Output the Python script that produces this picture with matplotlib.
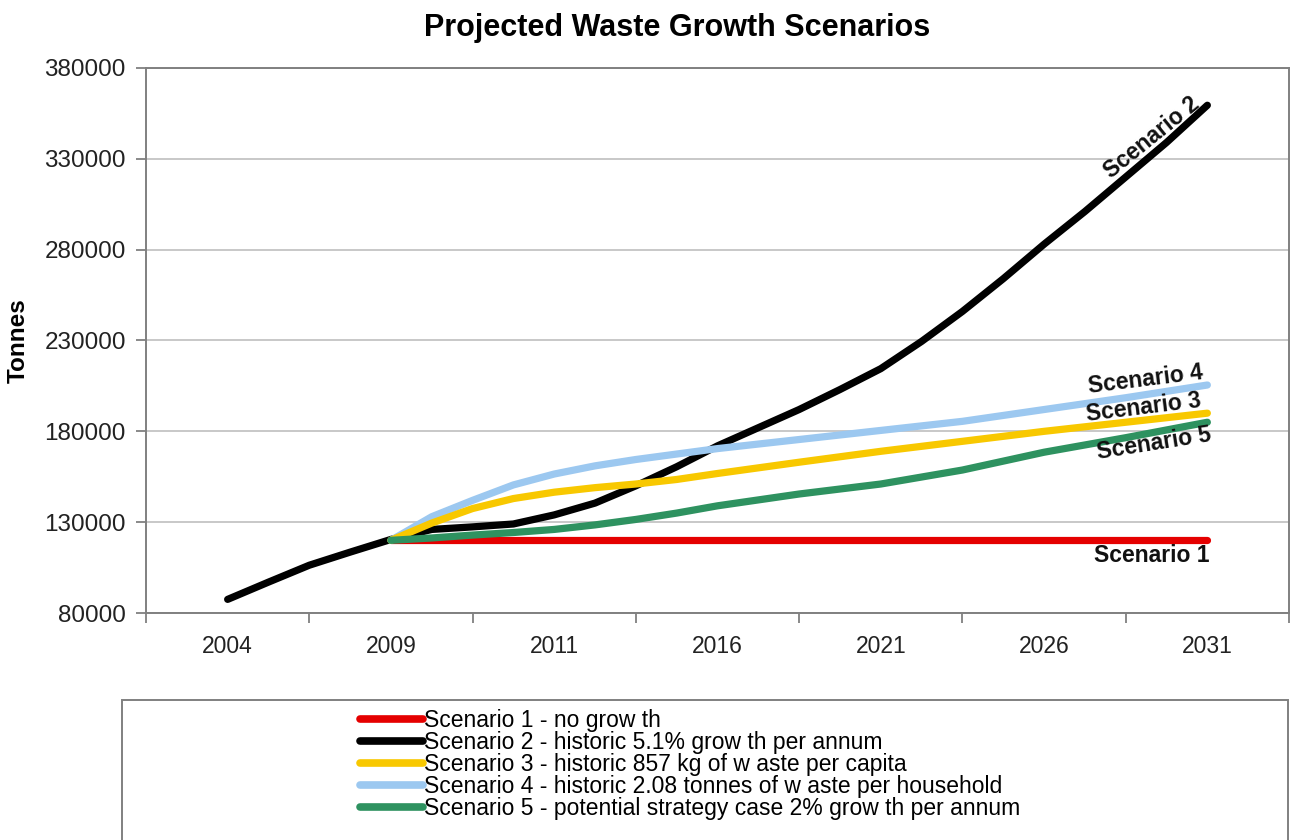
import matplotlib
matplotlib.use("Agg")
import matplotlib.pyplot as plt
from matplotlib.patches import Rectangle
from matplotlib.lines import Line2D

# ---- data ----
year_labels = ["2004", "2009", "2011", "2016", "2021", "2026", "2031"]
y_ticks = [80000, 130000, 180000, 230000, 280000, 330000, 380000]

hist_pos = [0, 0.25, 0.5, 0.75]
hist_vals = [87500, 97000, 106300, 113500]

proj_pos = [1, 1.25, 1.5, 1.75, 2, 2.25, 2.5, 2.75, 3, 3.5, 4, 4.5, 5, 5.5, 6]
s1_vals = [120000] * 15
s3_vals = [120000, 129500, 137500, 143000, 146500, 149000, 151000, 153500,
           156800, 163000, 169000, 174500, 180000, 185000, 190000]
s4_vals = [120000, 133000, 142000, 150500, 156500, 161000, 164500, 167500,
           170500, 175500, 180500, 185500, 192000, 198500, 205500]
s5_vals = [120000, 121300, 122900, 124300, 126000, 128500, 131500, 135000,
           139000, 145500, 151000, 158700, 168500, 176500, 185000]

s2_pos = [1, 1.25, 1.5, 1.75, 2, 2.25, 2.5, 2.75, 3, 3.25, 3.5, 3.75, 4,
          4.25, 4.5, 4.75, 5, 5.25, 5.5, 5.75, 6]
s2_vals = [120500, 126000, 127400, 129000, 134000, 140500, 150000, 160500,
           172000, 182000, 192000, 203000, 214500, 229500, 246000, 264000,
           283000, 301000, 320000, 339000, 359500]

legend_labels = [
    "Scenario 1 - no grow th",
    "Scenario 2 - historic 5.1% grow th per annum",
    "Scenario 3 - historic 857 kg of w aste per capita",
    "Scenario 4 - historic 2.08 tonnes of w aste per household",
    "Scenario 5 - potential strategy case 2% grow th per annum",
]
colors = ["#E50000", "#000000", "#F8C800", "#9CC8F0", "#2E9260"]

# ---- figure ----
plt.rcParams['font.family'] = ['Liberation Sans', 'DejaVu Sans']
W, H = 1291, 840
fig = plt.figure(figsize=(W / 100, H / 100), dpi=100)
ax = fig.add_axes([146 / W, 1 - 613 / H, (1289 - 146) / W, (613 - 68) / H])

lw = 5.2
kw = dict(lw=lw, solid_capstyle='round', solid_joinstyle='round')
ax.plot(proj_pos, s1_vals, color=colors[0], zorder=3, **kw)
ax.plot(hist_pos + s2_pos, hist_vals + s2_vals, color=colors[1], zorder=4, **kw)
ax.plot(proj_pos, s3_vals, color=colors[2], zorder=5, **kw)
ax.plot(proj_pos, s4_vals, color=colors[3], zorder=4.5, **kw)
ax.plot(proj_pos, s5_vals, color=colors[4], zorder=5.5, **kw)

ax.set_xlim(-0.5, 6.5)
ax.set_ylim(80000, 380000)
ax.set_yticks(y_ticks)
ax.set_yticklabels([str(v) for v in y_ticks])
ax.set_xticks(range(len(year_labels)))
ax.set_xticklabels(year_labels)
ax.set_xticks([i - 0.5 for i in range(len(year_labels) + 1)], minor=True)
ax.tick_params(axis='x', which='major', length=0, pad=15.5, labelsize=16.5, colors='#222222')
ax.tick_params(axis='x', which='minor', length=7, width=1.3, color='#808080', direction='out')
ax.tick_params(axis='y', length=7, width=1.3, color='#808080', pad=7.5, labelsize=17.5, labelcolor='#222222')
ax.yaxis.grid(True, color='#C8C8C8', lw=1.4)
ax.set_axisbelow(True)
for sp in ax.spines.values():
    sp.set_color('#808080')
    sp.set_linewidth(1.4)

# line labels
lab_kw = dict(fontsize=16.5, fontweight='bold', ha='center', va='center', color='#111111', zorder=7)
ax.text(5.66, 341500, "Scenario 2", rotation=39, **lab_kw)
ax.text(5.62, 208300, "Scenario 4", rotation=7, **lab_kw)
ax.text(5.61, 192900, "Scenario 3", rotation=7, **lab_kw)
ax.text(5.67, 173000, "Scenario 5", rotation=9, **lab_kw)
ax.text(5.66, 111400, "Scenario 1", rotation=0, **lab_kw)

# title and y label
fig.text(677 / W, 1 - 28 / H, "Projected Waste Growth Scenarios",
         fontsize=22, fontweight='bold', ha='center', va='center')
fig.text(18 / W, 1 - 341 / H, "Tonnes", fontsize=17.5, fontweight='bold',
         rotation=90, ha='center', va='center')

# legend box
fig.patches.append(Rectangle((122 / W, -0.05), (1288 - 122) / W, 0.05 + (1 - 700 / H),
                             transform=fig.transFigure, fill=False,
                             edgecolor='#808080', lw=1.4))
handles = [Line2D([0], [0], color=c, lw=5.5, solid_capstyle='round') for c in colors]
leg = fig.legend(handles, legend_labels, loc='upper left',
                 bbox_to_anchor=(360 / W, 1 - 709 / H), frameon=False,
                 handlelength=2.75, handletextpad=0.05, labelspacing=-0.04,
                 borderaxespad=0, borderpad=0,
                 prop={'size': 16.5})

fig.savefig("out.png", dpi=100)
